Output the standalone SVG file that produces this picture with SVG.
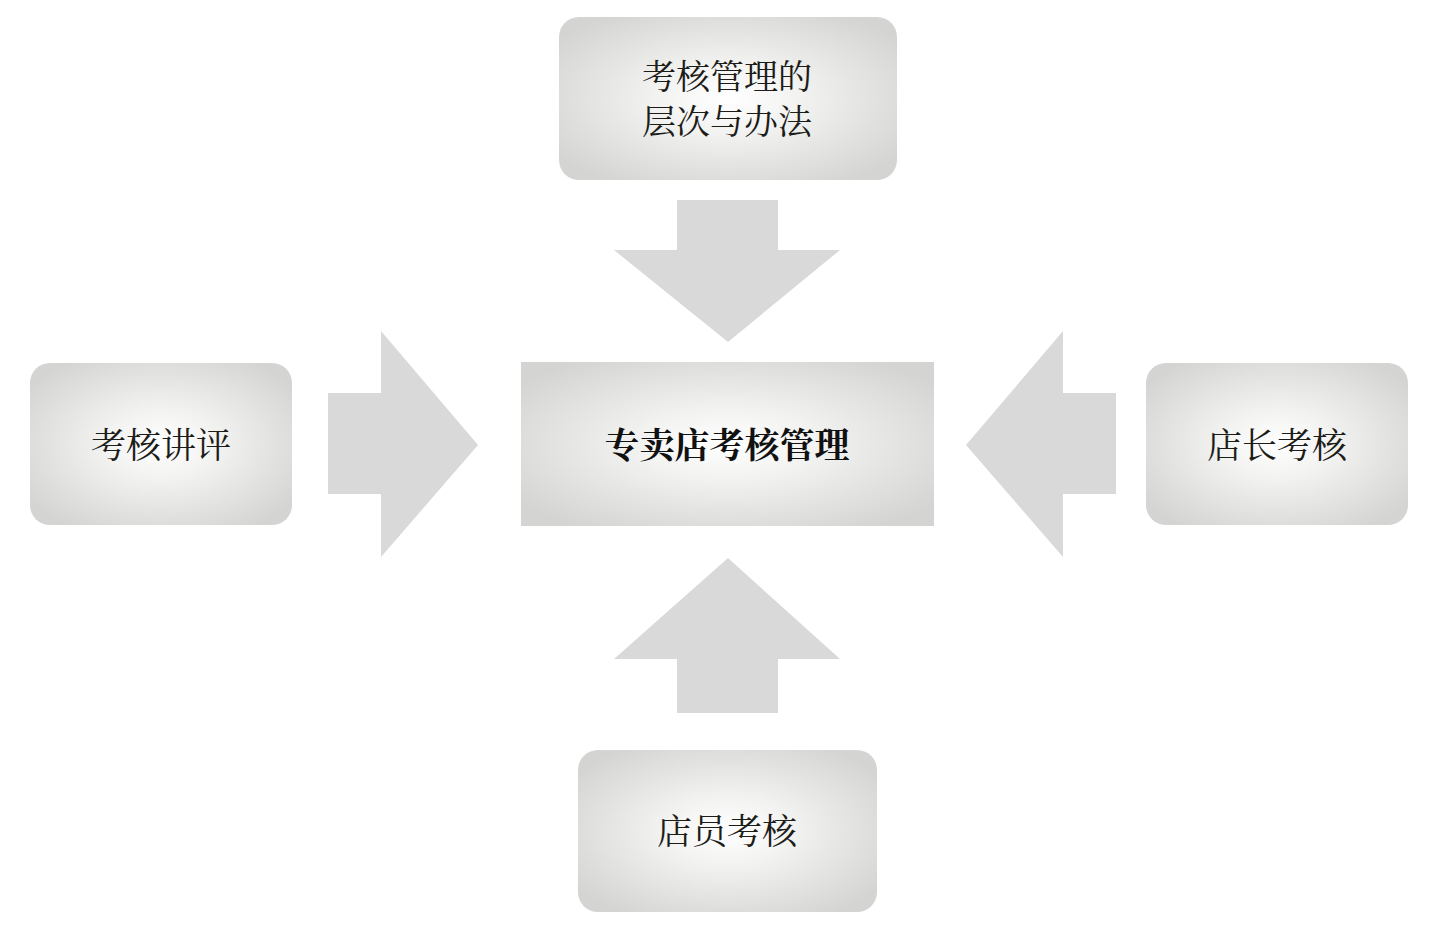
<svg xmlns="http://www.w3.org/2000/svg" width="1453" height="933" viewBox="0 0 1453 933">
<defs>
<radialGradient id="g" cx="0.5" cy="0.5" r="0.62">
<stop offset="0" stop-color="#ffffff"/>
<stop offset="0.35" stop-color="#f2f2f1"/>
<stop offset="1" stop-color="#d4d4d2"/>
</radialGradient>
<style>
.box{fill:url(#g);}
.arrow{fill:#d9d9d9;}
.t{font-family:"Noto Serif CJK SC","Noto Sans CJK SC",sans-serif;font-size:35px;fill:#1c1c18;text-anchor:middle;dominant-baseline:central;}
.s{font-size:34px;}
.b{font-weight:bold;fill:#111;}
</style>
</defs>
<rect width="1453" height="933" fill="#ffffff"/>
<g id="connectors">
<polygon class="arrow" points="677,200 778,200 778,250 840,250 728,342 614,250 677,250"/>
<polygon class="arrow" points="328,393 381,393 381,331 478,445 381,557 381,494 328,494"/>
<polygon class="arrow" points="1116,393 1063,393 1063,331 966,445 1063,557 1063,494 1116,494"/>
<polygon class="arrow" points="677,713 778,713 778,659 840,659 728,558 614,659 677,659"/>
</g>
<g id="node-center">
<rect class="box" x="521" y="362" width="413" height="164"/>
<text class="t b" x="727" y="443">专卖店考核管理</text>
</g>
<g id="node-top">
<rect class="box" x="559" y="17" width="338" height="163" rx="20"/>
<text class="t s" x="727" y="74">考核管理的</text>
<text class="t s" x="727" y="119">层次与办法</text>
</g>
<g id="node-left">
<rect class="box" x="30" y="363" width="262" height="162" rx="20"/>
<text class="t" x="161" y="443">考核讲评</text>
</g>
<g id="node-right">
<rect class="box" x="1146" y="363" width="262" height="162" rx="20"/>
<text class="t" x="1277" y="443">店长考核</text>
</g>
<g id="node-bottom">
<rect class="box" x="578" y="750" width="299" height="162" rx="20"/>
<text class="t" x="727" y="829">店员考核</text>
</g>
</svg>
